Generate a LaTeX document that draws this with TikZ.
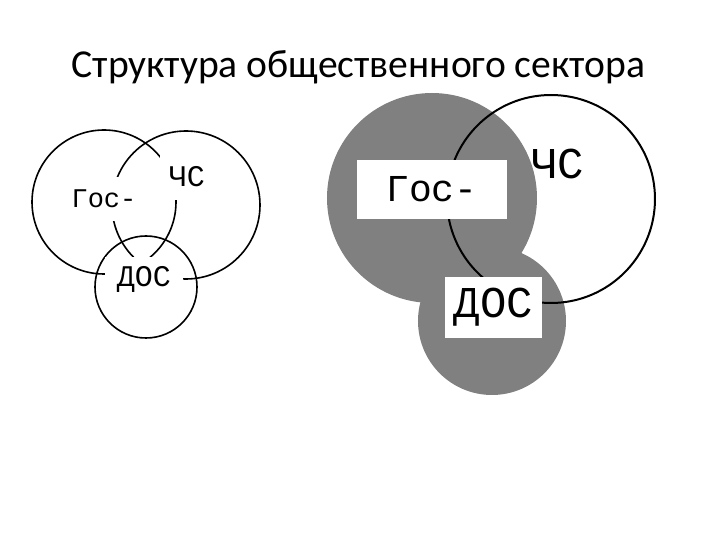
\documentclass[tikz,border=0pt]{standalone}
\usepackage{fontspec}
\setmainfont{Carlito}
\newfontfamily\labfont{Liberation Mono}
\usepackage{tikz}

\begin{document}
\begin{tikzpicture}[x=0.5pt,y=-0.5pt,
    ring/.style={line width=0.8pt},
    lbl/.style={fill=white,inner sep=0pt,font=\labfont},
    plate/.style={fill=white,inner sep=0pt,font=\labfont}]
  \useasboundingbox (0,0) rectangle (720,540);
  % title
  \node[anchor=base,font=\fontsize{19.8}{23}\selectfont] (title) at %
    (358.5,78) {Структура общественного сектора};
  % left: three circles
  \draw[ring] (104,202) circle (72);
  \draw[ring] (186,205) circle (74);
  \draw[ring] (146,287) circle (51);
  \node[lbl,minimum width=36pt,minimum height=22pt,
        font=\labfont\fontsize{13.5}{15}\selectfont] (gosL) at (104,199) {Гос-};
  \node[lbl,minimum width=27pt,minimum height=23pt,
        font=\labfont\fontsize{15}{17}\selectfont] (chsL) at (187,177) {ЧС};
  \node[lbl,minimum width=39pt,minimum height=21.5pt,
        font=\labfont\fontsize{15}{17}\selectfont] (dosL) at (144,279) {ДОС};
  % right: shaded sectors
  \fill[gray] (432,198) circle (105);
  \fill[gray] (492,321) circle (74);
  \draw[line width=1pt] (551,199) circle (104);
  \node[plate,minimum width=75pt,minimum height=29.5pt,
        font=\labfont\fontsize{19}{22}\selectfont] (gosR) at (432,189.5) {Гос-};
  \node[plate,minimum width=48.5pt,minimum height=30.5pt,
        font=\labfont\fontsize{22}{25}\selectfont] (dosR) at (493.5,307.5) {ДОС};
  \node[font=\labfont\fontsize{22}{25}\selectfont,inner sep=0pt] (chsR) %
    at (558,164) {ЧС};
\end{tikzpicture}
\end{document}
